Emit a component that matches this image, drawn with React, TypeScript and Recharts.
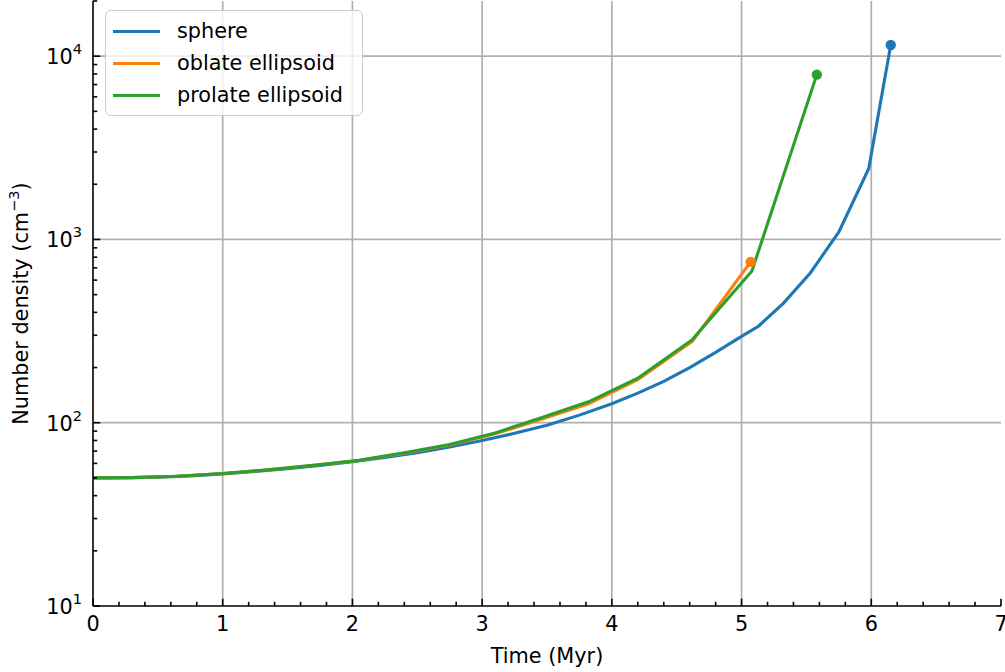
import React from 'react';
import { LineChart, Line, XAxis, YAxis, ReferenceLine, Legend, Label } from 'recharts';

// time (Myr) and number density (cm^-3)
const sphereTime = [0, 0.25, 0.5, 0.75, 1.0, 1.25, 1.5, 1.75, 2.0, 2.25, 2.5, 2.75, 3.0, 3.25, 3.5, 3.75, 4.0, 4.2, 4.4, 4.6, 4.8, 5.0, 5.13, 5.32, 5.53, 5.75, 5.98, 6.15];
const sphereDensity = [50, 50.1, 50.5, 51.3, 52.6, 54.2, 56.2, 58.5, 61.3, 64.6, 68.7, 73.8, 80, 87.5, 97, 110, 127, 145, 168, 200, 242, 296, 336, 447, 656, 1100, 2430, 11500];

const oblateTime = [0, 0.3, 0.65, 1.0, 1.35, 1.7, 2.05, 2.4, 2.75, 3.1, 3.45, 3.82, 4.2, 4.62, 5.07];
const oblateDensity = [50, 50.2, 51, 52.8, 55.3, 58.6, 62.2, 68.2, 75.5, 87, 104, 127, 172, 278, 754];

const prolateTime = [0, 0.3, 0.65, 1.0, 1.35, 1.7, 2.05, 2.4, 2.75, 3.1, 3.45, 3.82, 4.2, 4.62, 5.08, 5.58];
const prolateDensity = [50, 50.2, 51, 52.8, 55.3, 58.6, 62.3, 68.5, 76, 88, 106, 130, 175, 284, 673, 7930];

const seriesNames = ['sphere', 'oblate ellipsoid', 'prolate ellipsoid'];
const xMajor = [0, 1, 2, 3, 4, 5, 6, 7];
const yMajor = [10, 100, 1000, 10000];
const xGrid = [1, 2, 3, 4, 5, 6];
const yGrid = [100, 1000, 10000];

const FONT = '"DejaVu Sans", sans-serif';
const FS = 20.8;
const SUP = 14.6;

const toRows = (t: number[], v: number[]) => t.map((x, i) => ({ x, y: v[i] }));
const sphere = toRows(sphereTime, sphereDensity);
const oblate = toRows(oblateTime, oblateDensity);
const prolate = toRows(prolateTime, prolateDensity);

// minor ticks
const xTicks: number[] = [];
xMajor.forEach((m) => {
    xTicks.push(m);
    if (m < 7) for (let k = 1; k < 5; k++) xTicks.push(Math.round((m + k * 0.2) * 10) / 10);
});
const yTicks: number[] = [];
yMajor.forEach((d) => {
    yTicks.push(d);
    for (let k = 2; k < 10; k++) if (d * k <= 20000) yTicks.push(d * k);
});

const isMajorX = (v: number) => Math.abs(v - Math.round(v)) < 1e-6;
const isMajorY = (v: number) => yMajor.includes(v);

const BottomTick = (props: any) => {
    const { x, y, payload } = props;
    const major = isMajorX(payload.value);
    return (
        <g>
            <line x1={x} x2={x} y1={y} y2={y - (major ? 7.3 : 4.2)} stroke="#000" strokeWidth={1.6} />
            {major && (
                <text x={x} y={y + 25} textAnchor="middle" fontSize={FS} fontFamily={FONT} fill="#000">
                    {payload.value}
                </text>
            )}
        </g>
    );
};

const TopTick = (props: any) => {
    const { x, y, payload } = props;
    const major = isMajorX(payload.value);
    return <line x1={x} x2={x} y1={y} y2={y + (major ? 7.3 : 4.2)} stroke="#000" strokeWidth={1.6} />;
};

const LeftTick = (props: any) => {
    const { x, y, payload } = props;
    const major = isMajorY(payload.value);
    const exp = Math.round(Math.log10(payload.value));
    return (
        <g>
            <line x1={x} x2={x + (major ? 7.3 : 4.2)} y1={y} y2={y} stroke="#000" strokeWidth={1.6} />
            {major && (
                <text x={x - 11} y={y + 8} textAnchor="end" fontSize={FS} fontFamily={FONT} fill="#000">
                    10<tspan fontSize={SUP} dy={-10}>{exp}</tspan>
                </text>
            )}
        </g>
    );
};

const RightTick = (props: any) => {
    const { x, y, payload } = props;
    const major = isMajorY(payload.value);
    return <line x1={x} x2={x - (major ? 7.3 : 4.2)} y1={y} y2={y} stroke="#000" strokeWidth={1.6} />;
};

const endDot = (color: string, len: number) => (props: any) => {
    const { cx, cy, index } = props;
    if (index !== len - 1) return <g key={`d-${color}-${index}`} />;
    return <circle key={`d-${color}-${index}`} cx={cx} cy={cy} r={5.2} fill={color} stroke="none" />;
};

const renderLegend = (props: any) => {
    const items = [...(props.payload || [])].sort(
        (a: any, b: any) => seriesNames.indexOf(a.value) - seriesNames.indexOf(b.value)
    );
    return (
        <div
            style={{
                border: '1.7px solid #cccccc',
                borderRadius: 6,
                background: 'rgba(255,255,255,0.8)',
                padding: '4px 10px 4px 7px',
                width: 258,
                boxSizing: 'border-box',
                fontFamily: FONT,
                fontSize: FS,
                color: '#000',
            }}
        >
            {items.map((entry: any) => (
                <div key={entry.value} style={{ display: 'flex', alignItems: 'center', height: 32 }}>
                    <span style={{ display: 'inline-block', width: 47, height: 3, background: entry.color, marginRight: 17 }} />
                    <span>{entry.value}</span>
                </div>
            ))}
        </div>
    );
};

const YTitle = (props: any) => {
    const vb = props.viewBox || { x: 0, y: 1, width: 93, height: 604 };
    const cy = vb.y + vb.height / 2;
    const cx = 28;
    return (
        <text x={cx} y={cy} transform={`rotate(-90, ${cx}, ${cy})`} textAnchor="middle" fontSize={FS} fontFamily={FONT} fill="#000">
            Number density (cm<tspan fontSize={SUP} dy={-9}>−3</tspan><tspan dy={9}>)</tspan>
        </text>
    );
};

const XTitle = (props: any) => {
    const vb = props.viewBox || { x: 93, y: 605, width: 908, height: 66 };
    return (
        <text x={vb.x + vb.width / 2} y={vb.y + 57} textAnchor="middle" fontSize={FS} fontFamily={FONT} fill="#000">
            Time (Myr)
        </text>
    );
};

export default function App() {
    return (
        <div style={{ position: 'absolute', left: 0, top: 0, width: 1005, height: 672, background: '#fff' }}>
            <LineChart width={1005} height={672} margin={{ top: 1, right: 4, bottom: 0, left: 0 }}>
                <XAxis
                    xAxisId="bottom"
                    dataKey="x"
                    type="number"
                    domain={[0, 7]}
                    allowDataOverflow
                    ticks={xTicks}
                    interval={0}
                    tickSize={0}
                    tickMargin={0}
                    tickLine={false}
                    tick={<BottomTick />}
                    height={66}
                    axisLine={{ stroke: '#000', strokeWidth: 1.6 }}
                >
                    <Label content={<XTitle />} />
                </XAxis>
                <XAxis
                    xAxisId="top"
                    orientation="top"
                    type="number"
                    domain={[0, 7]}
                    allowDataOverflow
                    ticks={xTicks}
                    interval={0}
                    tickSize={0}
                    tickMargin={0}
                    tickLine={false}
                    tick={<TopTick />}
                    height={0}
                    axisLine={{ stroke: '#000', strokeWidth: 1.6 }}
                />
                <YAxis
                    yAxisId="left"
                    scale="log"
                    type="number"
                    domain={[10, 20000]}
                    allowDataOverflow
                    ticks={yTicks}
                    interval={0}
                    tickSize={0}
                    tickMargin={0}
                    tickLine={false}
                    tick={<LeftTick />}
                    width={93}
                    axisLine={{ stroke: '#000', strokeWidth: 1.6 }}
                >
                    <Label content={<YTitle />} />
                </YAxis>
                <YAxis
                    yAxisId="right"
                    orientation="right"
                    scale="log"
                    type="number"
                    domain={[10, 20000]}
                    allowDataOverflow
                    ticks={yTicks}
                    interval={0}
                    tickSize={0}
                    tickMargin={0}
                    tickLine={false}
                    tick={<RightTick />}
                    width={0}
                    axisLine={{ stroke: '#000', strokeWidth: 1.6 }}
                />
                {xGrid.map((v) => (
                    <ReferenceLine key={`gx${v}`} x={v} xAxisId="bottom" yAxisId="left" stroke="#b0b0b0" strokeWidth={1.7} />
                ))}
                {yGrid.map((v) => (
                    <ReferenceLine key={`gy${v}`} y={v} xAxisId="bottom" yAxisId="left" stroke="#b0b0b0" strokeWidth={1.7} />
                ))}
                <Line
                    xAxisId="bottom"
                    yAxisId="left"
                    data={sphere}
                    dataKey="y"
                    name="sphere"
                    type="linear"
                    stroke="#1f77b4"
                    strokeWidth={3.1}
                    dot={endDot('#1f77b4', sphere.length)}
                    activeDot={false}
                    isAnimationActive={false}
                />
                <Line
                    xAxisId="bottom"
                    yAxisId="left"
                    data={oblate}
                    dataKey="y"
                    name="oblate ellipsoid"
                    type="linear"
                    stroke="#ff7f0e"
                    strokeWidth={3.1}
                    dot={endDot('#ff7f0e', oblate.length)}
                    activeDot={false}
                    isAnimationActive={false}
                />
                <Line
                    xAxisId="bottom"
                    yAxisId="left"
                    data={prolate}
                    dataKey="y"
                    name="prolate ellipsoid"
                    type="linear"
                    stroke="#2ca02c"
                    strokeWidth={3.1}
                    dot={endDot('#2ca02c', prolate.length)}
                    activeDot={false}
                    isAnimationActive={false}
                />
                <Legend
                    layout="vertical"
                    align="center"
                    verticalAlign="middle"
                    wrapperStyle={{ left: 105, top: 10, width: 258 }}
                    content={renderLegend}
                />
            </LineChart>
        </div>
    );
}
